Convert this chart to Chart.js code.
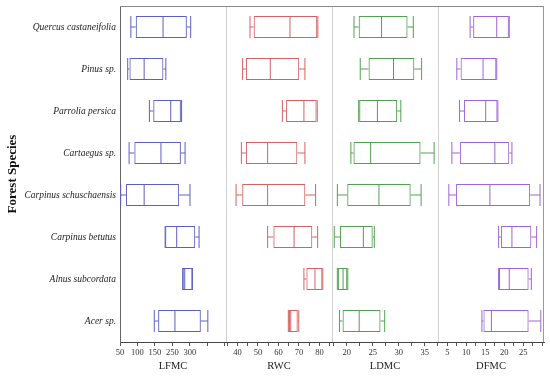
<!DOCTYPE html>
<html>
<head>
<meta charset="utf-8">
<script src="https://cdn.jsdelivr.net/npm/chart.js@4/dist/chart.umd.min.js"></script>
<style>
html,body{margin:0;padding:0;background:#fff;}
#wrap{width:550px;height:378px;}
</style>
</head>
<body>
<div id="wrap"><canvas id="c" width="550" height="378"></canvas></div>
<script>
// Categories (top to bottom)
const species = ['Quercus castaneifolia','Pinus sp.','Parrolia persica','Cartaegus sp.','Carpinus schuschaensis','Carpinus betutus','Alnus subcordata','Acer sp.'];

// Box statistics per species: [min, q1, median, q3, max]
const lfmc = [
  [81, 95, 173, 241, 252],
  [72, 77, 119, 174, 181],
  [134, 145, 195, 224, 226],
  [76, 91, 167, 224, 236],
  [52, 67, 119, 219, 250],
  [179, 179, 212, 265, 276],
  [229, 229, 235, 257, 257],
  [148, 159, 207, 281, 301]
];
const rwc = [
  [46.1, 47.9, 65.6, 78.9, 79.2],
  [42.5, 44.1, 56.0, 70.1, 72.9],
  [61.9, 63.7, 72.4, 78.6, 78.9],
  [41.9, 44.1, 54.7, 69.2, 72.9],
  [39.3, 42.3, 54.7, 73.1, 78.1],
  [54.7, 57.5, 67.6, 76.5, 79.1],
  [72.4, 73.6, 77.8, 81.4, 81.6],
  [64.8, 65.1, 66.0, 69.4, 69.9]
];
const ldmc = [
  [21.4, 22.3, 26.7, 31.7, 32.8],
  [22.6, 24.2, 29.0, 33.0, 34.4],
  [22.3, 22.4, 25.9, 29.7, 30.4],
  [20.8, 21.3, 24.6, 34.2, 36.8],
  [18.2, 20.1, 26.2, 32.3, 34.3],
  [17.6, 18.7, 23.2, 25.0, 25.3],
  [18.2, 18.3, 19.3, 20.1, 20.2],
  [18.6, 19.2, 22.4, 26.5, 27.3]
];
const dfmc = [
  [11.0, 11.8, 18.0, 21.2, 21.3],
  [7.5, 8.5, 14.4, 17.9, 18.0],
  [8.2, 9.4, 15.1, 18.2, 18.3],
  [6.2, 8.3, 17.5, 21.3, 22.0],
  [5.4, 7.3, 16.2, 26.8, 29.4],
  [18.5, 19.1, 22.0, 27.1, 28.5],
  [18.5, 18.6, 21.3, 26.4, 27.1],
  [14.1, 14.5, 16.6, 26.4, 29.6]
];

// Axis ticks and their labels (as printed in the reference)
const lfmcTicks = [50, 100, 150, 200, 250, 300, 350];
const lfmcTickLabels = ['50', '100', '150', '250', '300', '', ''];
const rwcTicks = [35, 40, 45, 50, 55, 60, 65, 70, 75, 80, 85];
const rwcTickLabels = ['', '40', '', '50', '', '60', '', '70', '', '80', ''];
const ldmcTicks = [17.5, 20, 22.5, 25, 27.5, 30, 32.5, 35, 37.5];
const ldmcTickLabels = ['', '20', '', '25', '', '30', '', '35', ''];
const dfmcTicks = [5, 7.5, 10, 12.5, 15, 17.5, 20, 22.5, 25, 27.5, 30];
const dfmcTickLabels = ['5', '', '10', '', '15', '', '20', '', '25', '', ''];

const panels = [
  {id: 'x1', title: 'LFMC', rows: lfmc, color: '#5c60c0', min: 50, max: 352.9, ticks: lfmcTicks, labels: lfmcTickLabels},
  {id: 'x2', title: 'RWC', rows: rwc, color: '#d46262', min: 34.4, max: 86.1, ticks: rwcTicks, labels: rwcTickLabels},
  {id: 'x3', title: 'LDMC', rows: ldmc, color: '#52a052', min: 17.17, max: 37.55, ticks: ldmcTicks, labels: ldmcTickLabels},
  {id: 'x4', title: 'DFMC', rows: dfmc, color: '#9d66d6', min: 2.55, max: 30.44, ticks: dfmcTicks, labels: dfmcTickLabels}
];

const serif = "'Liberation Serif', 'DejaVu Serif', serif";

const datasets = [];
const scales = {};
panels.forEach(p => {
  datasets.push({
    type: 'bar', label: p.title + ' box', indexAxis: 'y', xAxisID: p.id, yAxisID: 'y',
    data: p.rows.map(r => [r[1], r[3]]),
    barThickness: 22, grouped: false, order: 1,
    backgroundColor: 'rgba(0,0,0,0)', borderColor: p.color, borderWidth: 1,
    borderSkipped: false, inflateAmount: 0
  });
  datasets.push({
    type: 'bar', label: p.title + ' low whisker', indexAxis: 'y', xAxisID: p.id, yAxisID: 'y',
    data: p.rows.map(r => [r[0], r[1]]),
    barThickness: 1, grouped: false, order: 2,
    backgroundColor: p.color, borderWidth: 0, inflateAmount: 0
  });
  datasets.push({
    type: 'bar', label: p.title + ' high whisker', indexAxis: 'y', xAxisID: p.id, yAxisID: 'y',
    data: p.rows.map(r => [r[3], r[4]]),
    barThickness: 1, grouped: false, order: 2,
    backgroundColor: p.color, borderWidth: 0, inflateAmount: 0
  });
  const marks = [];
  p.rows.forEach((r, i) => {
    marks.push({x: r[0], y: species[i]});
    marks.push({x: r[2], y: species[i]});
    marks.push({x: r[4], y: species[i]});
  });
  datasets.push({
    type: 'scatter', label: p.title + ' marks', xAxisID: p.id, yAxisID: 'y',
    data: marks, order: 0,
    pointStyle: 'line', rotation: 90, pointRadius: 11, pointHoverRadius: 11,
    borderColor: p.color, backgroundColor: p.color, borderWidth: 1, pointBorderWidth: 1
  });
  scales[p.id] = {
    type: 'linear', position: 'bottom', stack: 'panels', stackWeight: 1,
    min: p.min, max: p.max, offset: false,
    afterBuildTicks: s => { s.ticks = p.ticks.map(v => ({value: v})); },
    afterFit: s => { s.height = 36; s.paddingLeft = 0; s.paddingRight = 0; },
    ticks: {
      autoSkip: false, maxRotation: 0, padding: 2,
      color: '#333', font: {family: serif, size: 8.5},
      callback: (v) => { const k = p.ticks.indexOf(v); return k >= 0 ? p.labels[k] : ''; }
    },
    grid: {offset: false, drawOnChartArea: false, drawTicks: true, tickLength: 4, color: '#555'},
    border: {display: true, color: '#444', width: 1},
    title: {display: true, text: p.title, color: '#222', font: {family: serif, size: 10.5}, padding: {top: 0, bottom: 5}}
  };
});

scales.y = {
  type: 'category', position: 'left', labels: species, offset: true,
  afterFit: s => { s.width = 120; s.paddingTop = 0; s.paddingBottom = 0; },
  grid: {display: false, drawTicks: false},
  border: {display: true, color: '#666', width: 1},
  ticks: {color: '#222', padding: 4, font: {family: serif, size: 9.5, style: 'italic'}},
  title: {display: true, text: 'Forest Species', color: '#111', font: {family: serif, size: 13, weight: 'bold'}, padding: {top: 5, bottom: 4}}
};

const framePlugin = {
  id: 'frame',
  beforeDatasetsDraw(chart) {
    const {ctx, chartArea: a} = chart;
    ctx.save();
    ctx.lineWidth = 1;
    ctx.strokeStyle = '#d2d2d2';
    ['x2', 'x3', 'x4'].forEach(id => {
      const x = Math.round(chart.scales[id].left) + 0.5;
      ctx.beginPath(); ctx.moveTo(x, a.top); ctx.lineTo(x, a.bottom); ctx.stroke();
    });
    ctx.strokeStyle = '#8a8a8a';
    ctx.beginPath(); ctx.moveTo(a.left, a.top + 0.5); ctx.lineTo(a.right, a.top + 0.5); ctx.stroke();
    ctx.strokeStyle = '#9a9a9a';
    ctx.beginPath(); ctx.moveTo(a.right - 0.5, a.top); ctx.lineTo(a.right - 0.5, a.bottom); ctx.stroke();
    ctx.restore();
  }
};

new Chart(document.getElementById('c'), {
  type: 'bar',
  data: {labels: species, datasets: datasets},
  options: {
    responsive: false, animation: false,
    layout: {autoPadding: false, padding: {top: 6, right: 6, left: 0, bottom: 0}},
    plugins: {legend: {display: false}, tooltip: {enabled: false}},
    events: [],
    scales: scales
  },
  plugins: [framePlugin]
});
</script>
</body>
</html>
